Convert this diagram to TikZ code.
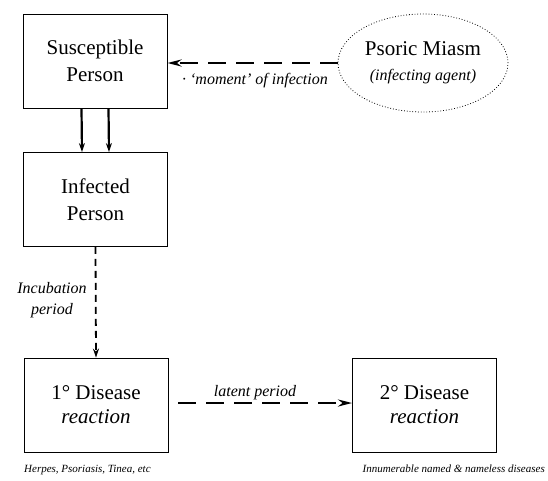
\documentclass[tikz,border=0pt]{standalone}
\usepackage{fontspec}
\setmainfont{LiberationSerif}[Extension=.ttf,UprightFont=*-Regular,BoldFont=*-Bold,ItalicFont=*-Italic,BoldItalicFont=*-BoldItalic]
\usetikzlibrary{arrows.meta,shapes.geometric}

\begin{document}
\begin{tikzpicture}[x=1pt,y=-1pt,
	box/.style={draw,line width=0.9pt,minimum width=144pt,minimum height=94pt,inner sep=0pt,align=center,font=\fontsize{21}{27}\selectfont},
	agent/.style={draw,ellipse,dotted,line width=0.8pt,minimum width=170pt,minimum height=98pt,inner sep=0pt,align=center,font=\fontsize{21}{25}\selectfont},
	note/.style={inner sep=0pt,font=\fontsize{16}{21}\selectfont\itshape},
	small/.style={inner sep=0pt,font=\fontsize{11}{13}\selectfont\itshape},
	bigdash/.style={line width=2.6pt,dash pattern=on 18pt off 10pt,-{Stealth[length=14pt,width=7pt]}},
	thindash/.style={line width=1.8pt,dash pattern=on 7pt off 5pt,-{Stealth[length=9pt,width=6pt]}},
	solidarrow/.style={line width=2.2pt,-{Stealth[length=9pt,width=6pt]}}]
\useasboundingbox (0,0) rectangle (548,480);
	\node[box] (sus) at (95,61) {Susceptible\\Person};
	\node[box] (inf) at (95.5,199.5) {Infected\\Person};
	\node[box,font=\fontsize{21}{24}\selectfont] (pri) at (96,405) {1° Disease\\\textit{reaction}};
	\node[box,font=\fontsize{21}{24}\selectfont] (sec) at (424.5,405) {2° Disease\\\textit{reaction}};
	\node[agent] (psora) at (423,63) {Psoric Miasm\\{\fontsize{16}{20}\selectfont\itshape(infecting agent)}};
	\draw[bigdash] (psora.west) -- (psora.west -| sus.east);
	\node[note] (moment) at (255,81) {· `moment' of infection};
	\draw[solidarrow] ([xshift=-13.5pt]sus.south) -- ([xshift=-13.5pt]inf.north);
	\draw[solidarrow] ([xshift=13.5pt]sus.south) -- ([xshift=13.5pt]inf.north);
	\draw[thindash] (inf.south) -- (pri.north);
	\node[note,align=center] (incub) at (52,300) {Incubation\\period};
	\draw[bigdash,shorten <=10pt] ([yshift=2pt]pri.east) -- ([yshift=2pt]sec.west);
	\node[note] (latent) at (255,393) {latent period};
	\node[small,anchor=base west] (herpes) at (24,472) {Herpes, Psoriasis, Tinea, etc};
	\node[small,anchor=base east] (innum) at (545,472) {Innumerable named \& nameless diseases};
\end{tikzpicture}
\end{document}
